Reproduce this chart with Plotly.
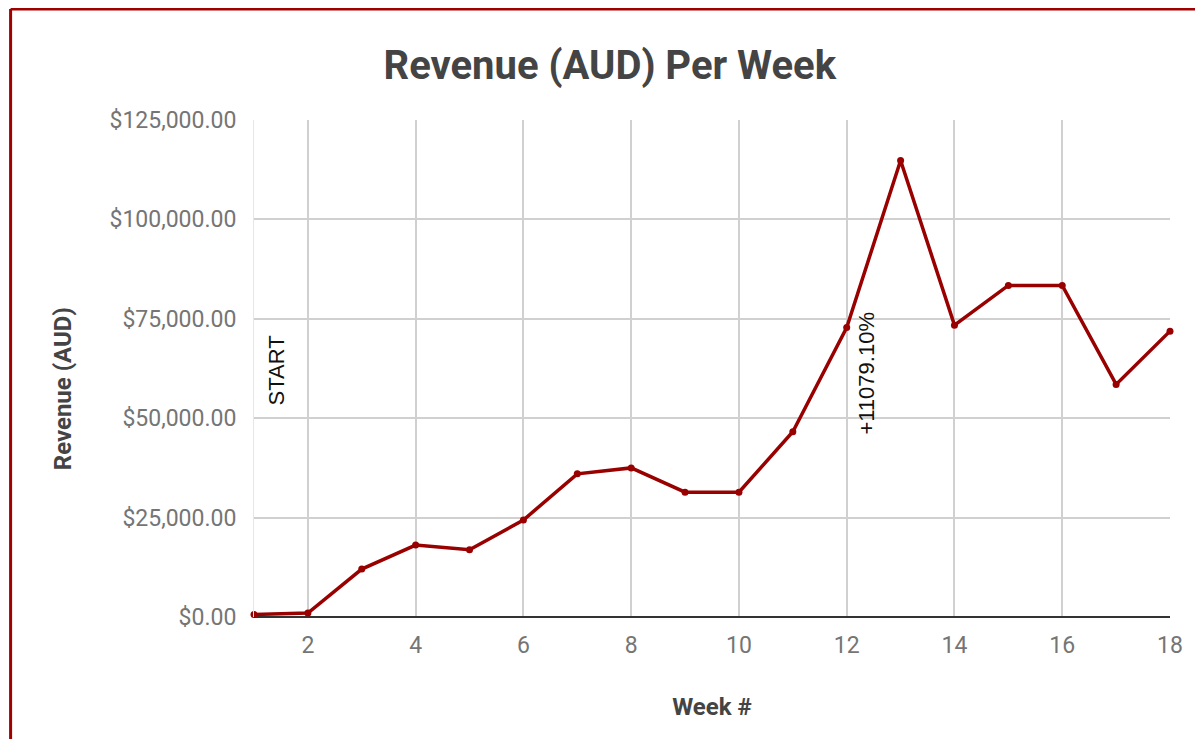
import plotly.graph_objects as go

weeks = list(range(1, 19))
revenue = [651, 1000, 12050, 18100, 16900, 24400, 36000, 37500, 31400, 31400,
           46600, 72800, 114800, 73400, 83400, 83400, 58500, 71900]
x_tick_vals = [2, 4, 6, 8, 10, 12, 14, 16, 18]
y_tick_vals = [0, 25000, 50000, 75000, 100000, 125000]
notes = [(1, "START", 62000, 22), (12, "+11079.10%", 61400, 20)]

W, H = 1187, 731
ML, MR, MT, MB = 246, 19, 112, 122
PW, PH = W - ML - MR, H - MT - MB

LINE = "#990000"
fig = go.Figure()
fig.add_trace(go.Scatter(
    x=weeks, y=revenue, mode="lines+markers",
    line=dict(color=LINE, width=3.5),
    marker=dict(color=LINE, size=7),
    showlegend=False, cliponaxis=False,
))

for wk, txt, yv, xs in notes:
    fig.add_annotation(x=wk, y=yv, text=txt, textangle=-90, showarrow=False,
                       xshift=xs, font=dict(family="Liberation Sans, Arial", size=22, color="#111111"))

# y-axis title placed as a rotated annotation (Google Charts offsets it below centre)
fig.add_annotation(xref="paper", yref="paper", x=(54 - ML) / PW, y=1 - (381 - MT) / PH,
                   text="<b>Revenue (AUD)</b>", textangle=-90, showarrow=False,
                   xanchor="center", yanchor="middle",
                   font=dict(family="Roboto", size=24, color="#444444"))

bx = (1.0 - ML) / PW
by = 1 + (MT - 1.0) / PH
fig.update_layout(
    width=W, height=H,
    margin=dict(l=ML, r=MR, t=MT, b=MB),
    paper_bgcolor="white", plot_bgcolor="white",
    font=dict(family="Roboto", color="#757575"),
    title=dict(text="<b>Revenue (AUD) Per Week</b>", x=0.507, xanchor="center",
               y=1 - 57 / H, yanchor="middle",
               font=dict(family="Roboto", size=40, color="#444444")),
    xaxis=dict(range=[1, 18], tickvals=x_tick_vals, showgrid=True,
               gridcolor="#d0d0d0", gridwidth=2, zeroline=False,
               tickfont=dict(size=23, color="#757575"), ticks="",
               ticklabelstandoff=12,
               title=dict(text="<b>Week #</b>", standoff=40,
                          font=dict(size=24, color="#444444"))),
    yaxis=dict(range=[0, 125000], tickvals=y_tick_vals, tickformat="$,.2f",
               showgrid=True, gridcolor="#d0d0d0", gridwidth=2,
               zeroline=True, zerolinecolor="#333333", zerolinewidth=2,
               showline=True, linecolor="#e6e6e6", linewidth=1,
               tickfont=dict(size=23, color="#757575"), ticks="",
               ticklabelstandoff=12),
    shapes=[
        dict(type="line", xref="paper", yref="paper",
             x0=bx, x1=1.1, y0=by, y1=by,
             line=dict(color="#a00000", width=3)),
        dict(type="line", xref="paper", yref="paper",
             x0=bx, x1=bx, y0=by, y1=-0.5,
             line=dict(color="#a00000", width=3)),
    ],
)

fig.write_html("out.html")
